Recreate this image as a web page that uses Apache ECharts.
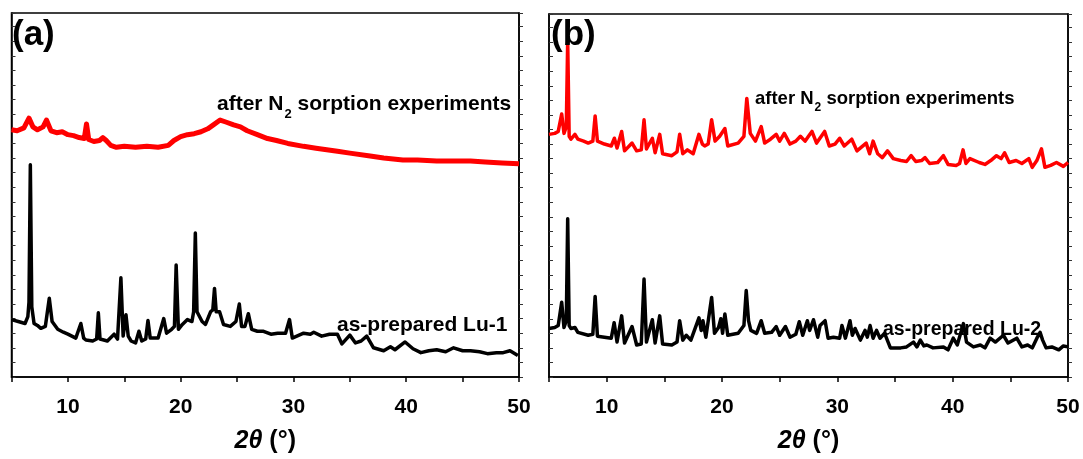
<!DOCTYPE html>
<html>
<head>
<meta charset="utf-8">
<script src="https://cdn.jsdelivr.net/npm/echarts@6/dist/echarts.min.js"></script>
<style>
html, body { margin: 0; padding: 0; background: #fff; }
#main { width: 1083px; height: 459px; }
</style>
</head>
<body>
<div id="main"></div>
<script>
// [2theta (deg), intensity (a.u., offset curves)]
var redA = [
  [5.0,254],[5.5,253],[6.1,256],[6.55,266],[6.9,257],[7.3,254],[7.8,257],[8.1,264],[8.5,253],
  [9.0,251],[9.5,252],[10.0,249],[10.5,248],[11.0,246],[11.45,245],[11.65,260],[11.85,244],
  [12.3,242],[12.8,243],[13.1,246],[13.4,243],[13.8,238],[14.3,236],[15.0,237],[16.0,236],
  [17.0,237],[18.0,236],[18.9,238],[19.4,243],[20.0,247],[20.6,249],[21.2,250],[21.8,252],
  [22.4,255],[22.9,259],[23.5,264],[24.0,262],[24.7,259],[25.3,257],[25.9,253],[26.8,249],
  [27.7,245],[28.5,243],[29.5,240],[30.9,237],[32.0,235],[33.9,232],[35.0,230],[36.8,227],
  [38.0,225],[39.7,223],[41.0,223],[42.7,222],[44.0,222],[45.7,222],[47.0,221],[48.5,220],
  [50.0,219]
];
var blackA = [
  [5.0,59],[5.6,57],[6.2,55],[6.45,62],[6.55,77],[6.67,218],[6.8,72],[7.0,55],[7.3,53],
  [7.6,50],[8.0,52],[8.35,81],[8.6,57],[9.1,49],[9.6,46],[10.0,44],[10.7,40],[11.15,55],
  [11.4,40],[11.6,38],[12.2,37],[12.55,39],[12.7,66],[12.85,39],[13.5,37],[14.1,44],
  [14.4,39],[14.7,102],[14.9,42],[15.15,64],[15.35,42],[15.6,37],[16.0,35],[16.3,47],
  [16.55,37],[16.9,39],[17.1,58],[17.3,40],[18.0,40],[18.5,60],[18.75,45],[19.2,49],
  [19.45,52],[19.6,115],[19.8,49],[20.15,54],[20.6,59],[21.0,57],[21.15,67],[21.3,148],
  [21.45,67],[21.6,65],[21.9,57],[22.2,54],[22.65,67],[22.85,69],[23.0,91],[23.15,67],
  [23.45,67],[23.8,54],[24.4,52],[24.9,57],[25.2,75],[25.4,52],[25.7,52],[26.0,65],
  [26.3,49],[26.8,47],[27.35,47],[28.0,44],[28.6,45],[29.3,45],[29.65,59],[29.9,40],
  [30.9,45],[31.5,44],[31.8,46],[32.5,42],[33.2,44],[33.9,44],[34.3,34],[35.0,43],
  [35.5,35],[36.0,37],[36.5,42],[37.1,30],[38.0,27],[38.6,31],[39.0,28],[39.9,36],
  [40.6,29],[41.3,25],[42.0,27],[42.7,28],[43.5,26],[44.2,30],[45.0,27],[45.7,27],
  [46.5,26],[47.2,24],[48.0,25],[48.6,25],[49.2,27],[49.9,22]
];
var redB = [
  [5.0,250],[5.5,251],[5.8,253],[6.1,271],[6.3,251],[6.5,258],[6.62,346],[6.75,248],
  [6.9,245],[7.25,250],[7.5,245],[8.0,243],[8.4,241],[8.8,243],[9.0,269],[9.2,243],
  [9.8,240],[10.4,238],[10.67,246],[10.9,236],[11.3,253],[11.55,233],[12.2,241],[12.6,233],
  [13.0,234],[13.24,265],[13.45,235],[13.96,246],[14.2,231],[14.6,250],[14.85,230],
  [15.65,228],[16.1,232],[16.33,250],[16.6,230],[17.0,234],[17.5,230],[18.0,250],[18.3,240],
  [18.5,238],[18.8,240],[19.1,265],[19.4,243],[19.8,248],[20.25,256],[20.5,238],[21.4,241],
  [21.9,248],[22.15,287],[22.45,251],[22.9,243],[23.4,258],[23.7,241],[24.2,245],[24.7,250],
  [25.0,243],[25.4,251],[25.9,240],[26.4,243],[26.8,248],[27.2,243],[27.5,248],[27.8,253],
  [28.2,241],[28.9,253],[29.3,238],[29.8,240],[30.2,246],[30.6,238],[31.25,245],[31.7,233],
  [32.5,241],[32.8,230],[33.1,243],[33.5,230],[33.9,226],[34.35,233],[34.85,225],[35.5,223],
  [36.0,222],[36.4,228],[36.8,222],[37.3,223],[37.6,226],[38.0,220],[38.7,221],[39.2,228],
  [39.6,219],[40.3,218],[40.6,220],[40.9,234],[41.15,220],[41.5,225],[42.3,221],[42.8,219],
  [43.3,223],[43.8,228],[44.2,225],[44.5,231],[44.9,221],[45.5,223],[46.0,220],[46.6,225],
  [46.9,216],[47.3,223],[47.7,235],[48.0,216],[48.5,218],[49.0,221],[49.6,217],[50.0,221]
];
var blackB = [
  [5.0,50],[5.5,51],[5.8,53],[6.1,77],[6.3,51],[6.5,58],[6.62,163],[6.75,53],[6.9,50],
  [7.25,51],[7.5,46],[8.4,43],[8.8,44],[9.0,83],[9.2,42],[10.4,40],[10.65,56],[10.9,36],
  [11.3,63],[11.55,35],[12.2,52],[12.6,33],[13.0,34],[13.24,101],[13.45,36],[13.96,59],
  [14.2,35],[14.6,63],[14.85,34],[15.65,33],[16.1,36],[16.33,58],[16.6,38],[16.9,43],
  [17.3,38],[18.0,61],[18.2,48],[18.35,58],[18.6,41],[19.1,82],[19.35,45],[19.7,51],
  [19.9,60],[20.05,45],[20.25,65],[20.5,43],[21.4,45],[21.9,53],[22.1,89],[22.3,58],
  [22.5,48],[23.0,45],[23.4,58],[23.7,45],[24.3,46],[24.7,52],[25.0,43],[25.5,52],
  [25.9,41],[26.4,44],[26.7,57],[27.0,43],[27.4,58],[27.6,48],[27.93,59],[28.3,41],
  [28.5,53],[28.94,58],[29.2,40],[29.66,41],[30.2,40],[30.4,53],[30.7,40],[31.1,58],
  [31.3,43],[31.54,50],[32.0,38],[32.4,48],[32.6,41],[32.84,53],[33.1,40],[33.4,48],
  [33.7,40],[34.1,45],[34.6,30],[35.5,30],[36.0,31],[36.6,36],[36.9,31],[37.2,38],
  [37.5,32],[37.76,33],[38.3,30],[39.2,31],[39.6,28],[40.05,40],[40.4,33],[40.93,55],
  [41.2,36],[41.8,31],[42.4,33],[42.8,30],[43.25,40],[43.7,36],[44.4,43],[44.8,35],
  [45.56,40],[46.0,31],[46.5,33],[46.9,30],[47.3,40],[47.58,46],[47.8,38],[48.1,30],
  [48.6,31],[49.2,28],[49.6,32],[50.0,31]
];
var xTicks = [10, 20, 30, 40, 50];

var font = 'Liberation Sans, Arial, sans-serif';
var myChart = echarts.init(document.getElementById('main'));

function xAxisOf(grid) {
  return {
    gridIndex: grid,
    type: 'value',
    min: 5,
    max: 50,
    interval: 5,
    name: '{i|2θ} (°)',
    nameLocation: 'middle',
    nameGap: 52,
    nameTextStyle: {
      color: '#000', fontSize: 25, fontWeight: 'bold', fontFamily: font,
      rich: { i: { fontSize: 25, fontWeight: 'bold', fontStyle: 'italic', fontFamily: font } }
    },
    axisLine: { show: true, lineStyle: { color: '#000', width: 1.5 } },
    axisTick: { show: true, inside: false, length: 5, lineStyle: { color: '#000', width: 1.5 } },
    axisLabel: {
      color: '#000', fontSize: 21, fontWeight: 'bold', fontFamily: font, margin: 20,
      formatter: function (v) { return xTicks.indexOf(v) >= 0 ? String(v) : ''; }
    },
    splitLine: { show: false }
  };
}
function yAxisOf(grid, side) {
  return {
    gridIndex: grid,
    type: 'value',
    position: side,
    min: 0,
    max: 374,
    interval: 15,
    axisLine: { show: true, lineStyle: { color: '#000', width: 1.5 } },
    axisTick: { show: true, inside: side === 'left', length: 4, lineStyle: { color: '#333', width: 1 } },
    axisLabel: { show: false },
    splitLine: { show: false }
  };
}
function lineOf(data, color, width, xi, yi) {
  return {
    type: 'line',
    data: data,
    xAxisIndex: xi,
    yAxisIndex: yi,
    showSymbol: false,
    smooth: false,
    lineStyle: { color: color, width: width, join: 'round' },
    silent: true
  };
}

var richSub = {
  b: { fontSize: 21, fontWeight: 'bold', fontFamily: font, color: '#000', lineHeight: 26, verticalAlign: 'bottom' },
  s: { fontSize: 13, fontWeight: 'bold', fontFamily: font, color: '#000', lineHeight: 26, verticalAlign: 'bottom', padding: [0, 0, -6, 1] },
  c: { fontSize: 18.5, fontWeight: 'bold', fontFamily: font, color: '#000', lineHeight: 23, verticalAlign: 'bottom' },
  t: { fontSize: 12, fontWeight: 'bold', fontFamily: font, color: '#000', lineHeight: 23, verticalAlign: 'bottom', padding: [0, 0, -6, 1] }
};
var lbl = { fontWeight: 'bold', fontFamily: font, color: '#000' };

var option = {
  backgroundColor: '#fff',
  animation: false,
  title: [
    { text: '(a)', left: 12, top: 18, padding: 0, textStyle: Object.assign({ fontSize: 35 }, lbl) },
    { text: '(b)', left: 551, top: 18, padding: 0, textStyle: Object.assign({ fontSize: 35 }, lbl) },
    { text: '{b|after N}{s|2}{b| sorption experiments}', left: 217, top: 89, padding: 0, textStyle: { rich: richSub } },
    { text: 'as-prepared Lu-1', left: 337, top: 315, padding: 0, textStyle: Object.assign({ fontSize: 21 }, lbl) },
    { text: '{c|after N}{t|2}{c| sorption experiments}', left: 755, top: 85, padding: 0, textStyle: { rich: richSub } },
    { text: 'as-prepared Lu-2', left: 883, top: 320, padding: 0, textStyle: Object.assign({ fontSize: 19.5 }, lbl) }
  ],
  grid: [
    { left: 11.5, top: 13, width: 507.5, height: 374, show: true, borderColor: '#000', borderWidth: 1.5, backgroundColor: 'transparent' },
    { left: 549, top: 14, width: 519, height: 374, show: true, borderColor: '#000', borderWidth: 1.5, backgroundColor: 'transparent' }
  ],
  xAxis: [xAxisOf(0), xAxisOf(1)],
  yAxis: [yAxisOf(0, 'left'), yAxisOf(0, 'right'), yAxisOf(1, 'left'), yAxisOf(1, 'right')],
  series: [
    lineOf(redA, '#ff0000', 5, 0, 0),
    lineOf(blackA, '#000000', 3.5, 0, 0),
    lineOf(redB, '#ff0000', 3.5, 1, 2),
    lineOf(blackB, '#000000', 3.5, 1, 2)
  ]
};
myChart.setOption(option);
</script>
</body>
</html>
